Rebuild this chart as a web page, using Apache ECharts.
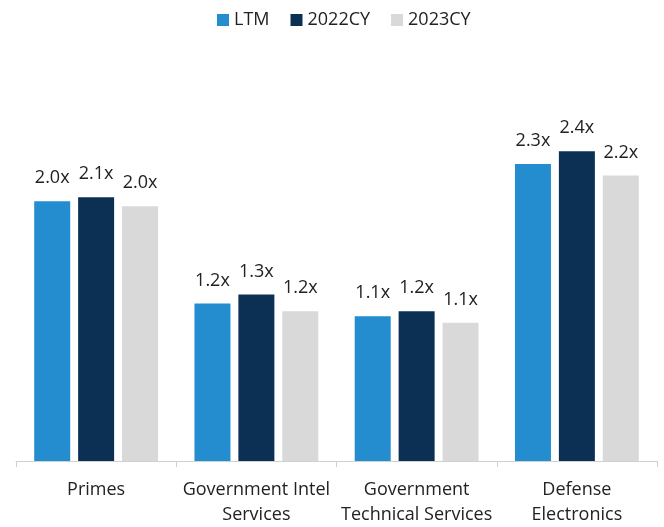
<!DOCTYPE html>
<html>
<head>
<meta charset="utf-8">
<script src="https://cdn.jsdelivr.net/npm/echarts@6/dist/echarts.min.js"></script>
<style>html,body{margin:0;padding:0;background:#fff;}#c{width:664px;height:527px;}</style>
</head>
<body>
<div id="c"></div>
<script>
var categories = ['Primes', 'Government Intel\nServices', 'Government\nTechnical Services', 'Defense\nElectronics'];
var seriesNames = ['LTM', '2022CY', '2023CY'];
var ltm = [2.03, 1.23, 1.13, 2.32];
var cy2022 = [2.06, 1.30, 1.17, 2.42];
var cy2023 = [1.99, 1.17, 1.08, 2.23];
var colors = ['#238DCF', '#0C3054', '#D9D9D9'];

var font = '"Open Sans", sans-serif';
var chart = echarts.init(document.getElementById('c'), null, {renderer: 'canvas'});
function mk(name, data, color) {
  return {
    name: name, type: 'bar', data: data, barWidth: 36, barGap: '22%',
    itemStyle: {color: color},
    label: {
      show: true, position: 'top', distance: 14,
      fontFamily: font, fontSize: 18, color: '#222',
      formatter: function (p) { return p.value.toFixed(1) + 'x'; }
    }
  };
}
chart.setOption({
  animation: false,
  backgroundColor: '#fff',
  textStyle: {fontFamily: font},
  legend: {
    data: seriesNames, top: 6, left: 212,
    itemWidth: 12, itemHeight: 12, itemGap: 21,
    icon: 'rect',
    textStyle: {fontFamily: font, fontSize: 18, color: '#222', padding: [0, 0, 0, 0]}
  },
  grid: {left: 16, right: 7, top: 77, bottom: 63, containLabel: false},
  xAxis: {
    type: 'category', data: categories,
    axisLine: {lineStyle: {color: '#D0D0D0', width: 1}},
    axisTick: {show: true, length: 6, lineStyle: {color: '#D0D0D0'}},
    axisLabel: {interval: 0, margin: 16, fontFamily: font, fontSize: 18, color: '#222', lineHeight: 25}
  },
  yAxis: {type: 'value', min: 0, max: 3, show: false, splitLine: {show: false}},
  series: [mk(seriesNames[0], ltm, colors[0]), mk(seriesNames[1], cy2022, colors[1]), mk(seriesNames[2], cy2023, colors[2])]
});
</script>
</body>
</html>
